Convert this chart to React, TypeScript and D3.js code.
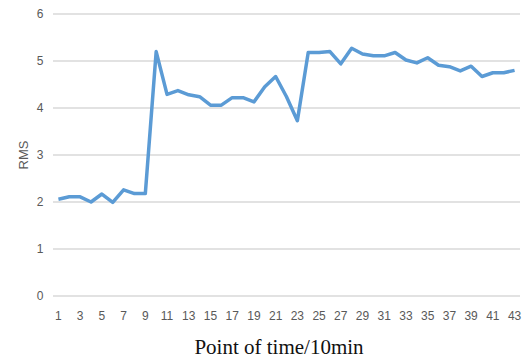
import * as d3 from "d3";

// RMS value at each 10-minute time point
const points = d3.range(1, 44);
const rms = [
  2.06, 2.11, 2.11, 2.0, 2.17, 1.99, 2.26, 2.18, 2.18, 5.2,
  4.29, 4.37, 4.28, 4.24, 4.06, 4.06, 4.22, 4.22, 4.13, 4.45,
  4.67, 4.24, 3.73, 5.18, 5.18, 5.2, 4.94, 5.27, 5.15, 5.11,
  5.11, 5.18, 5.02, 4.96, 5.07, 4.91, 4.88, 4.79, 4.89, 4.67,
  4.75, 4.75, 4.8,
];
const yTicks = [0, 1, 2, 3, 4, 5, 6];

export default function App() {
  const width = 522;
  const height = 360;
  const left = 53;
  const right = 520;
  const top = 14;
  const bottom = 296;

  const x = d3
    .scalePoint<number>()
    .domain(points)
    .range([left, right])
    .padding(0.5);
  const y = d3.scaleLinear().domain([0, 6]).range([bottom, top]);

  const line = d3
    .line<number>()
    .x((_, i) => x(points[i])!)
    .y((d) => y(d));

  const tickFont = '"Liberation Sans Narrow", "Liberation Sans", sans-serif';

  return (
    <div style={{ position: "absolute", left: 0, top: 0 }}>
      <svg width={width} height={height} style={{ display: "block", background: "white" }}>
        {yTicks.map((t) => (
          <g key={t}>
            <line x1={left} x2={right} y1={y(t)} y2={y(t)} stroke="#d9d9d9" strokeWidth={1.5} />
            <text
              x={40}
              y={y(t)}
              dy="0.35em"
              textAnchor="middle"
              fontSize={12}
              fill="#595959"
              style={{ fontFamily: tickFont }}
            >
              {t}
            </text>
          </g>
        ))}
        {points
          .filter((p) => p % 2 === 1)
          .map((p) => (
            <text
              key={p}
              x={x(p)}
              y={316}
              dy="0.35em"
              textAnchor="middle"
              fontSize={12}
              fill="#595959"
              style={{ fontFamily: tickFont }}
            >
              {p}
            </text>
          ))}
        <path d={line(rms) ?? ""} fill="none" stroke="#5b9bd5" strokeWidth={3.5} strokeLinejoin="round" />
        <text
          transform="translate(23,155) rotate(-90)"
          textAnchor="middle"
          dy="0.35em"
          fontSize={13}
          fill="#595959"
          style={{ fontFamily: tickFont }}
        >
          RMS
        </text>
        <text
          x={279}
          y={354}
          textAnchor="middle"
          fontSize={21}
          fill="#111"
          style={{ fontFamily: '"Liberation Serif", "Times New Roman", serif' }}
        >
          Point of time/10min
        </text>
      </svg>
    </div>
  );
}
